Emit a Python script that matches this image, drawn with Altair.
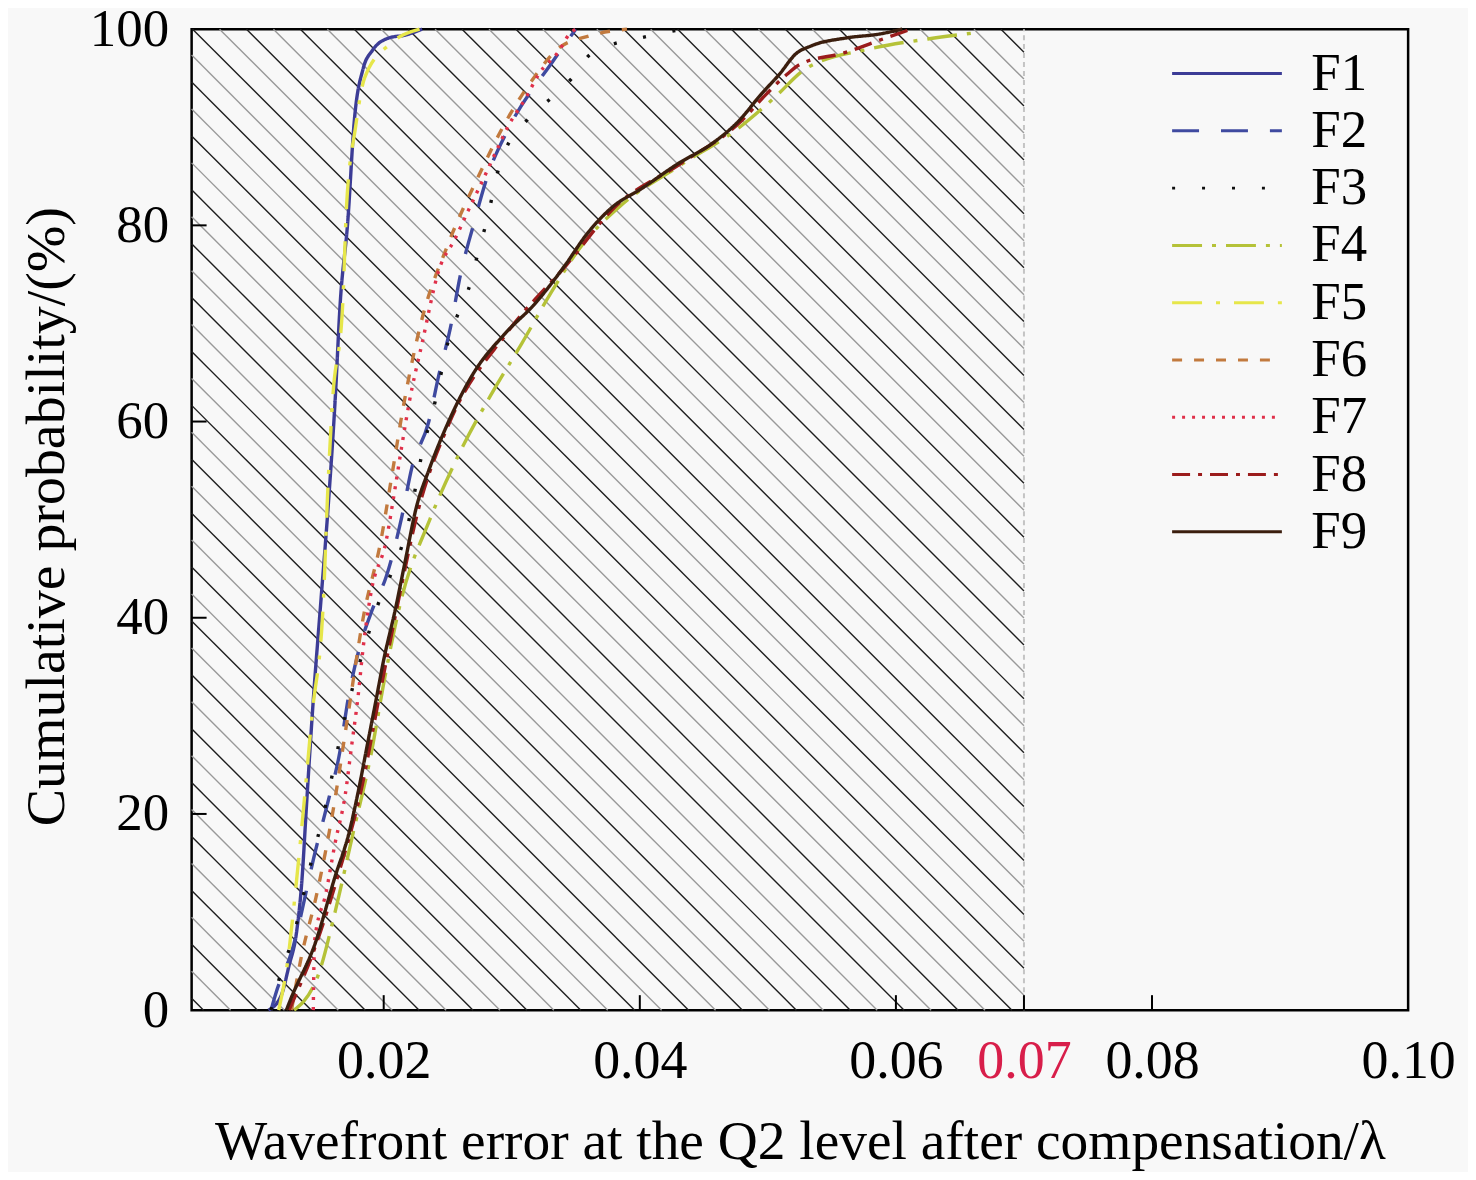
import altair as alt
import pandas as pd

# cumulative probability (%) vs wavefront error for the nine cases
series_names = ['F1', 'F2', 'F3', 'F4', 'F5', 'F6', 'F7', 'F8', 'F9']

f1_y = [0, 1.5, 4.5, 8, 13, 21.5, 31.6, 41.8, 52, 62, 72, 80.5, 90.6, 96, 97.8, 99.1, 99.4, 100]
f1_x = [0.0110, 0.0120, 0.0126, 0.0132, 0.0136, 0.0140, 0.0145, 0.0151, 0.0157, 0.0162,
        0.0166, 0.0172, 0.0177, 0.0184, 0.0191, 0.0204, 0.0217, 0.0230]

f2_y = [0, 1.8, 5.9, 16.4, 21.5, 25.8, 32.3, 36.4, 40.8, 44.2, 50.2, 55.3, 59.9, 64.7, 69.5,
        75, 80, 85, 90, 96.7, 100]
f2_x = [0.0112, 0.0116, 0.0128, 0.0147, 0.0157, 0.0165, 0.0173, 0.0180, 0.0191, 0.0202, 0.0214,
        0.0222, 0.0235, 0.0243, 0.0252, 0.0260, 0.0270, 0.0281, 0.0298, 0.0332, 0.0350]

f3_y = [0, 3.9, 6.9, 15.4, 19.4, 30, 40, 50.7, 56.8, 62.5, 68, 71.3, 74.2, 77.4, 80.2, 85.9,
        90.9, 93, 95, 97.5, 99.3, 100]
f3_x = [0.0112, 0.0120, 0.0128, 0.0144, 0.0152, 0.0170, 0.0192, 0.0221, 0.0230, 0.0241, 0.0250,
        0.0259, 0.0268, 0.0274, 0.0280, 0.0290, 0.0313, 0.0331, 0.0347, 0.0362, 0.0407, 0.0434]

f4_y = [0, 4, 10, 18, 26, 34, 42, 50, 57, 63, 68, 73, 78, 82, 86, 90, 93, 96, 98, 99, 99.6]
f4_x = [0.0130, 0.0150, 0.0162, 0.0176, 0.0190, 0.0201, 0.0214, 0.0236, 0.0260, 0.0285, 0.0308,
        0.0330, 0.0355, 0.0385, 0.0430, 0.0478, 0.0505, 0.0530, 0.0580, 0.0625, 0.0660]

f5_y = [0, 5, 12, 20, 30, 42, 52, 62, 72, 82, 90, 95, 98.5, 100]
f5_x = [0.0118, 0.0125, 0.0131, 0.0137, 0.0144, 0.0153, 0.0156, 0.0160, 0.0168, 0.0171,
        0.0178, 0.0185, 0.0205, 0.0228]

f6_y = [0, 5, 12, 20, 30, 40, 48, 55, 62, 70, 78, 85, 90, 95, 98, 99.3, 100]
f6_x = [0.0128, 0.0135, 0.0148, 0.0160, 0.0172, 0.0184, 0.0198, 0.0207, 0.0216, 0.0229, 0.0250,
        0.0274, 0.0293, 0.0317, 0.0336, 0.0360, 0.0390]

f7_y = [0, 7, 12, 17, 22, 27, 32, 37, 42.5, 47.9, 53.3, 57.4, 62, 68, 75.4, 78.7, 81.5, 84.5,
        87.6, 90.3, 93, 95.4, 97.8, 99.5, 100]
f7_x = [0.0145, 0.0146, 0.0155, 0.0162, 0.0170, 0.0175, 0.0180, 0.0184, 0.0190, 0.0202, 0.0209,
        0.0214, 0.0220, 0.0230, 0.0243, 0.0256, 0.0266, 0.0277, 0.0288, 0.0298, 0.0311, 0.0321,
        0.0337, 0.0345, 0.0350]

f8_y = [0, 7, 13.6, 22.2, 31.6, 40.8, 51, 59.8, 69, 76, 81.8, 86.3, 90.6, 93.4, 95.4, 96.4,
        97.6, 99.1, 100]
f8_x = [0.0126, 0.0148, 0.0164, 0.0182, 0.0196, 0.0210, 0.0227, 0.0251, 0.0296, 0.0343, 0.0380,
        0.0432, 0.0479, 0.0499, 0.0515, 0.0525, 0.0560, 0.0592, 0.0612]

f9_y = [0, 1, 7, 13.6, 18.1, 22.2, 26.9, 31.6, 35.7, 40.8, 45.9, 51, 55.3, 59.8, 64.9, 69, 72,
        76, 79, 81.8, 83.8, 86.3, 88.3, 90.6, 93.4, 95.4, 97.5, 98.3, 99.1, 99.5, 100]
f9_x = [0.0124, 0.0127, 0.0147, 0.0162, 0.0173, 0.0180, 0.0187, 0.0194, 0.0200, 0.0209, 0.0217,
        0.0225, 0.0236, 0.0250, 0.0270, 0.0295, 0.0318, 0.0342, 0.0358, 0.0378, 0.0402, 0.0430,
        0.0456, 0.0477, 0.0495, 0.0509, 0.0522, 0.0534, 0.0561, 0.0587, 0.0605]

x_ticks = [0.02, 0.04, 0.06, 0.07, 0.08, 0.10]
y_ticks = [0, 20, 40, 60, 80, 100]
limit = 0.07

colors = ['#3c3c96', '#3f4aa0', '#111111', '#b5c238', '#e6e64a',
          '#c27a3e', '#e0304a', '#9b1c1c', '#3b1e0e']
dashes = [[1, 0], [27, 22], [3, 27], [30, 10, 4, 10], [30, 14, 4, 14],
          [10, 12], [3, 7], [18, 8, 4, 8], [1, 0]]

xs = [f1_x, f2_x, f3_x, f4_x, f5_x, f6_x, f7_x, f8_x, f9_x]
ys = [f1_y, f2_y, f3_y, f4_y, f5_y, f6_y, f7_y, f8_y, f9_y]
rows = []
for name, sx, sy in zip(series_names, xs, ys):
    for k, (a, b) in enumerate(zip(sx, sy)):
        rows.append({'series': name, 'x': a, 'y': b, 'k': k})
df = pd.DataFrame(rows)

W, H = 1219, 983
XMIN, XMAX = 0.005, 0.10
FONT = 'Liberation Serif'

xscale = alt.Scale(domain=[XMIN, XMAX], nice=False, zero=False)
yscale = alt.Scale(domain=[0, 100], nice=False)

x_axis = alt.Axis(values=x_ticks, format='.2f', ticks=False, grid=False, domain=False,
                  labelFontSize=54, labelPadding=25, labelOverlap=False, labelFlush=False,
                  labelColor=alt.condition('datum.value == 0.07', alt.value('#d81e4a'),
                                           alt.value('black')),
                  title='Wavefront error at the Q2 level after compensation/λ',
                  titleFontSize=55.5, titleFontWeight='normal', titleY=149,
                  titleBaseline='alphabetic')
y_axis = alt.Axis(values=y_ticks, ticks=False, grid=False, domain=False,
                  labelFontSize=53, labelPadding=23,
                  title='Cumulative probability/(%)',
                  titleFontSize=56, titleFontWeight='normal', titleX=-128, titleY=488,
                  titleBaseline='alphabetic')

# hatch of 45 degree lines over the region below the limit
px_x = W / (XMAX - XMIN)
px_y = H / 100
m = px_x / px_y
step = 27 / px_x
x_first = XMIN + 1 / px_x

hatch = alt.Chart(alt.sequence(-40, 34, as_='i')).transform_calculate(
    x0=f'{x_first} + datum.i * {step}'
).transform_calculate(
    xa=f'max(datum.x0, {XMIN})',
    xb=f'min(datum.x0 + 100 / {m}, {limit})'
).transform_calculate(
    ya=f'100 - (datum.xa - datum.x0) * {m}',
    yb=f'100 - (datum.xb - datum.x0) * {m}'
).transform_filter(
    'datum.xb > datum.xa && datum.ya > 0'
).mark_rule(strokeWidth=1.4).encode(
    x=alt.X('xa:Q', scale=xscale, axis=x_axis),
    x2='xb:Q',
    y=alt.Y('ya:Q', scale=yscale, axis=y_axis),
    y2='yb:Q',
    color=alt.condition('datum.i % 2 == 0', alt.value('#1e1e1e'), alt.value('#999999'))
)

limit_line = alt.Chart(pd.DataFrame({'x': [limit], 'y0': [0], 'y1': [100]})).mark_rule(
    color='#c4c4c4', strokeWidth=2, strokeDash=[5, 4]
).encode(
    x=alt.X('x:Q', scale=xscale, axis=x_axis),
    y=alt.Y('y0:Q', scale=yscale, axis=y_axis),
    y2='y1:Q'
)

lines = alt.Chart(df).mark_line(strokeWidth=3.4, interpolate='monotone').encode(
    x=alt.X('x:Q', scale=xscale, axis=x_axis),
    y=alt.Y('y:Q', scale=yscale, axis=y_axis),
    color=alt.Color('series:N', scale=alt.Scale(domain=series_names, range=colors),
                    legend=alt.Legend(title=None, orient='none', legendX=981, legendY=17,
                                      symbolType='stroke', symbolSize=12100,
                                      symbolStrokeWidth=3, clipHeight=55, rowPadding=2.4,
                                      labelFontSize=53, labelOffset=28, labelLimit=200)),
    strokeDash=alt.StrokeDash('series:N', scale=alt.Scale(domain=series_names, range=dashes),
                              legend=None),
    order='k:Q'
)

# inward tick marks
xt = alt.Chart(pd.DataFrame({'v': x_ticks[:-1]})).mark_rule(color='black', strokeWidth=2).encode(
    x=alt.X('v:Q', scale=xscale, axis=x_axis),
    y=alt.value(H),
    y2=alt.value(H - 15)
)
yt = alt.Chart(pd.DataFrame({'v': y_ticks[1:-1]})).mark_rule(color='black', strokeWidth=2).encode(
    y=alt.Y('v:Q', scale=yscale, axis=y_axis),
    x=alt.value(0),
    x2=alt.value(15)
)

chart = alt.layer(hatch, limit_line, lines, xt, yt).properties(
    width=W, height=H,
    autosize=alt.AutoSizeParams(type='none'),
    padding={'left': 184, 'top': 20, 'right': 60, 'bottom': 161},
    background='#f8f8f8'
).configure(font=FONT).configure_view(
    stroke='black', strokeWidth=2.5
).configure_axis(
    titleColor='black'
).configure_legend(
    labelColor='black'
)

chart.save("out.html", embed_options={"renderer": "svg", "actions": False})
